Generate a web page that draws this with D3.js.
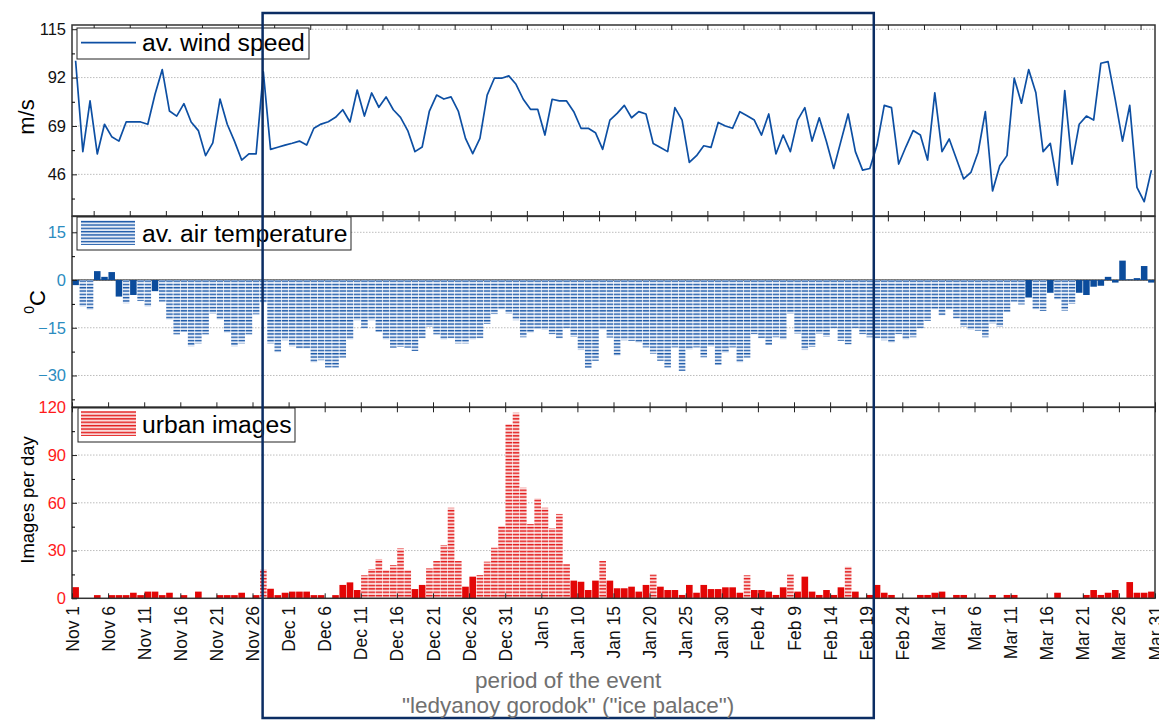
<!DOCTYPE html>
<html>
<head>
<meta charset="utf-8">
<script src="https://cdn.jsdelivr.net/npm/d3@7/dist/d3.min.js"></script>
<style>
  body { margin: 0; background: #fff; }
  text { font-family: "Liberation Sans", Arial, sans-serif; }
</style>
</head>
<body>
<div id="chart"></div>
<script>
// x tick labels, one every 5 days from Nov 1 (day 0) to Mar 31 (day 150)
const tickLabels = ["Nov 1","Nov 6","Nov 11","Nov 16","Nov 21","Nov 26","Dec 1","Dec 6","Dec 11",
  "Dec 16","Dec 21","Dec 26","Dec 31","Jan 5","Jan 10","Jan 15","Jan 20","Jan 25","Jan 30",
  "Feb 4","Feb 9","Feb 14","Feb 19","Feb 24","Mar 1","Mar 6","Mar 11","Mar 16","Mar 21","Mar 26","Mar 31"];

// daily values, Nov 1 .. Mar 30
const windSpeed = [
  100, 56.8, 80.9, 55.7, 69.8, 63.9, 61.8, 70.9, 70.9, 70.9,
  69.8, 84.1, 95.8, 76.1, 73.7, 79.6, 70.9, 66.8, 54.9, 61,
  81.8, 69.8, 61.8, 52.8, 55.7, 55.7, 94.7, 57.9, 58.9, 59.9,
  60.8, 61.8, 59.9, 67.9, 69.9, 71, 73.1, 76.7, 70.9, 86.1,
  73.7, 84.7, 77.9, 82.8, 76.7, 73.1, 66.8, 56.8, 59, 76.1,
  83.7, 81.8, 82.8, 76.1, 63.1, 55.8, 63.1, 83.7, 91.7, 91.7,
  92.8, 88.8, 81.7, 76.9, 76.9, 64.7, 81.7, 80.9, 80.9, 75.8,
  67.9, 67.9, 65.8, 57.9, 71.8, 75, 78.8, 72.9, 75.8, 74.7,
  60.7, 58.8, 56.8, 77.7, 71.8, 51.7, 54.9, 59.6, 58.8, 70.7,
  69, 67.9, 75.8, 73.9, 71.8, 64.7, 74.7, 55.7, 64.7, 56.8,
  71.8, 77.7, 61.8, 72.9, 61.5, 48.8, 61.8, 74.7, 56.8, 48,
  48.8, 59.9, 78.8, 77.7, 50.9, 59.1, 66.8, 64.7, 52.8, 84.7,
  56.8, 62.8, 53.3, 43.8, 46.9, 56.5, 75.8, 38.1, 50.1, 54.9,
  91.7, 79.8, 95.8, 84.8, 56.8, 60.7, 40.9, 85.8, 50.9, 69.8,
  73.7, 71.8, 98.8, 99.6, 81.4, 61.8, 78.8, 39.8, 33, 48
];

const airTemp = [
  -1.6, -8.4, -9.4, 2.8, 1.0, 2.5, -5.2, -7.3, -4.7, -6.6,
  -8.4, -3.5, -6.8, -12.4, -17.1, -16.3, -20.8, -19.9, -17.1, -10.5,
  -12.4, -16.6, -20.8, -19.9, -17.1, -10.8, -7.1, -19.9, -22.7, -18.9,
  -20.8, -21.5, -21.5, -25.9, -25.2, -27.5, -27.5, -24.4, -18.7, -12.6,
  -15.2, -12.6, -16.3, -18.7, -21.3, -21, -21.3, -22.3, -18.3, -14.7,
  -17.1, -18.7, -18.3, -19.9, -19.9, -18.7, -18.3, -13.8, -10.7, -9.2,
  -10.5, -12.6, -18.0, -16.6, -15.4, -15.7, -17.0, -18.3, -15.2, -17.8,
  -22.0, -27.6, -25.4, -15.5, -18.1, -23.8, -18.9, -19.1, -19.7, -21.2,
  -23.1, -25.4, -27.5, -21.2, -28.6, -21.8, -21.2, -24.3, -20.8, -26.7,
  -22.9, -21.2, -25.9, -24.4, -17.0, -18.3, -20.4, -18.0, -18.7, -10.5,
  -16.8, -22.0, -21.0, -16.8, -17.8, -15.2, -19.1, -20.2, -15.2, -17.0,
  -18.0, -18.3, -18.9, -19.7, -17.0, -18.7, -18.0, -15.2, -12.8, -9.2,
  -11.1, -9.2, -12.1, -14.7, -15.7, -15.9, -18.0, -13.6, -14.7, -10.0,
  -6.8, -7.7, -5.5, -9.2, -9.7, -4.0, -6.1, -9.6, -7.5, -4.0,
  -4.7, -2.1, -1.8, 1.0, -0.8, 6.1, 0.2, 0.6, 4.4, -0.8
];

const urbanImages = [
  7, 0, 0, 2, 0, 2, 2, 2, 3.5, 2,
  4.2, 4.2, 2, 3.5, 0, 2, 0, 4.2, 0, 0,
  2, 2, 2, 3.5, 0, 2, 18, 6, 2, 3.5,
  4.2, 4.2, 4.2, 2, 2, 0, 2, 8.4, 10, 5.2,
  14.5, 18.4, 24.7, 17.8, 20.9, 31.4, 17.8, 5.8, 8.4, 18.8,
  23.4, 33.5, 56.9, 23.4, 7.3, 13.6, 14.6, 23, 31.8, 45.4,
  109.5, 116.6, 69.5, 46.7, 62.8, 56.9, 44, 53, 21.5, 11.1,
  10.4, 5.2, 11.1, 23.4, 11.1, 6.3, 6.3, 7.3, 4.2, 8.4,
  15, 7.3, 5.2, 5.2, 2.1, 8.4, 3.5, 8.4, 5.8, 5.8,
  6.9, 6.9, 3.5, 14.5, 5.2, 5.2, 4.2, 2.1, 6.9, 15,
  4.2, 13.6, 4.2, 2.1, 5.2, 2.1, 6.9, 19.9, 4.2, 0,
  2.1, 8.4, 3.5, 2.1, 0, 0, 0, 2.1, 2.1, 3.5,
  4.2, 0, 2.1, 2.1, 0, 0, 0, 2.1, 0, 2.1,
  2.1, 0, 0, 0, 0, 0, 3.5, 0, 0, 0,
  2.1, 5.2, 2.1, 3.5, 5.2, 0, 10.2, 3.5, 3.5, 4.2
];

const windTicks = [46, 69, 92, 115];
const tempTicks = [-30, -15, 0, 15];
const imageTicks = [0, 30, 60, 90, 120];

// event "ledyanoy gorodok", in days from Nov 1
const eventPeriod = [26.4, 111.05];

const width = 1159, height = 720;
const left = 72, right = 1155;

let svg = d3.select("#chart")
    .append("svg")
    .attr("width", width)
    .attr("height", height);

let defs = svg.append("defs");

let pb = defs.append("pattern")
    .attr("id", "hatchBlue")
    .attr("patternUnits", "userSpaceOnUse")
    .attr("width", 6).attr("height", 3.3);
pb.append("rect").attr("width", 6).attr("height", 3.3).attr("fill", "#d3dff2");
pb.append("rect").attr("y", 0).attr("width", 6).attr("height", 1.3).attr("fill", "#1d5aa8");
pb.append("rect").attr("y", 2.1).attr("width", 6).attr("height", 0.6).attr("fill", "#ffffff");

let pr = defs.append("pattern")
    .attr("id", "hatchRed")
    .attr("patternUnits", "userSpaceOnUse")
    .attr("width", 6).attr("height", 3.4);
pr.append("rect").attr("width", 6).attr("height", 3.4).attr("fill", "#f6b9b9");
pr.append("rect").attr("y", 0).attr("width", 6).attr("height", 1.3).attr("fill", "#e31b1b");
pr.append("rect").attr("y", 2.1).attr("width", 6).attr("height", 0.7).attr("fill", "#ffffff");

let x = d3.scaleLinear().domain([0, 150]).range([left, right]);
let step = x(1) - x(0);
let days = tickLabels.map((d, i) => i * 5);
let offsetDays = d3.range(3, 150, 5);

let yWind = d3.scaleLinear().domain([26.2, 117]).range([216, 25]);
let yTemp = d3.scaleLinear().domain([-40, 20]).range([407.3, 216.4]);
let yImg = d3.scaleLinear().domain([0, 120]).range([598.3, 407.3]);

function midTicks(t) {
  let out = [];
  let h = (t[1] - t[0]) / 2;
  for (let v = t[0] - h; v <= t[t.length - 1] + h; v += 2 * h) out.push(v);
  return out;
}

function grid(y, vals) {
  svg.append("g").selectAll("line").data(vals).enter().append("line")
      .attr("x1", left).attr("x2", right)
      .attr("y1", d => y(d)).attr("y2", d => y(d))
      .attr("stroke", "#bdbdbd")
      .attr("stroke-width", 1)
      .attr("stroke-dasharray", "1.5,1.5");
}

function yAxis(y, ticks, color) {
  let minor = midTicks(ticks).filter(v => v > y.domain()[0] && v < y.domain()[1]);
  svg.append("g")
      .attr("transform", `translate(${left},0)`)
      .call(d3.axisLeft(y).tickValues(minor).tickSizeInner(-3).tickSizeOuter(0).tickFormat(""))
      .call(g => g.select(".domain").remove());
  let g = svg.append("g")
      .attr("transform", `translate(${left},0)`)
      .call(d3.axisLeft(y).tickValues(ticks).tickSizeInner(-5).tickSizeOuter(0).tickPadding(6));
  g.select(".domain").remove();
  g.selectAll("line").attr("stroke", "#222");
  g.selectAll("text")
      .attr("fill", color)
      .style("font-size", "16.5px")
      .style("font-family", "'Liberation Sans', Arial, sans-serif");
}

function xTicks(ypos, vals, dir) {
  let axis = dir === "up" ? d3.axisBottom(x) : d3.axisTop(x);
  svg.append("g")
      .attr("transform", `translate(0,${ypos})`)
      .call(axis.tickValues(vals).tickSizeInner(-5).tickSizeOuter(0).tickFormat(""))
      .call(g => g.select(".domain").remove())
      .call(g => g.selectAll("line").attr("stroke", "#222"));
}

// grids
grid(yWind, windTicks);
grid(yTemp, tempTicks);
grid(yImg, imageTicks.filter(d => d > 0 && d < 120));

// panel 2 baseline
svg.append("line")
    .attr("x1", left).attr("x2", right)
    .attr("y1", yTemp(0)).attr("y2", yTemp(0))
    .attr("stroke", "#000").attr("stroke-width", 1);

// wind line
let line = d3.line()
    .x((d, i) => x(i) + step / 2)
    .y(d => yWind(d));

svg.append("path")
    .datum(windSpeed)
    .attr("d", line)
    .attr("fill", "none")
    .attr("stroke", "#0d4fa3")
    .attr("stroke-width", 1.7)
    .attr("stroke-linejoin", "round");

// temperature bars
svg.append("g").selectAll("rect").data(airTemp).enter().append("rect")
    .attr("x", (d, i) => x(i) + 0.35)
    .attr("width", step - 0.7)
    .attr("y", d => yTemp(Math.max(d, 0)))
    .attr("height", d => Math.abs(yTemp(d) - yTemp(0)))
    .attr("fill", d => d > -6 ? "#0b4c9c" : "url(#hatchBlue)");

// image bars
svg.append("g").selectAll("rect").data(urbanImages).enter().append("rect")
    .attr("x", (d, i) => x(i) + 0.3)
    .attr("width", step - 0.6)
    .attr("y", d => yImg(d))
    .attr("height", d => yImg(0) - yImg(d))
    .attr("fill", d => d >= 14.2 ? "url(#hatchRed)" : "#e30606");

// frames
[[25, 216], [216.4, 407.3], [407.3, 598.3]].forEach(p => {
  svg.append("rect")
      .attr("x", left).attr("y", p[0])
      .attr("width", right - left).attr("height", p[1] - p[0])
      .attr("fill", "none")
      .attr("stroke", "#333")
      .attr("stroke-width", 1.5);
});

// axes
yAxis(yWind, windTicks, "#111");
yAxis(yTemp, tempTicks, "#2b8cbf");
yAxis(yImg, imageTicks, "#ff1a1a");

xTicks(25, offsetDays, "down");
xTicks(216, offsetDays, "up");
xTicks(216.4, offsetDays, "down");
xTicks(407.3, days, "up");
xTicks(407.3, days, "down");
xTicks(598.3, days, "up");

// x labels
svg.append("g").selectAll("text").data(tickLabels).enter().append("text")
    .attr("transform", (d, i) => `translate(${x(days[i]) + 6.5},606) rotate(-90)`)
    .style("text-anchor", "end")
    .style("font-size", "17.5px")
    .attr("fill", "#111")
    .text(d => d);

// y titles
svg.append("text")
    .attr("transform", "translate(34,117) rotate(-90)")
    .style("text-anchor", "middle")
    .style("font-size", "22px")
    .text("m/s");

let tt = svg.append("text")
    .attr("transform", "translate(41,302) rotate(-90)")
    .style("text-anchor", "middle")
    .style("font-size", "22px");
tt.append("tspan").attr("dy", "-0.5em").style("font-size", "14px").text("0");
tt.append("tspan").attr("dy", "0.5em").text("C");

svg.append("text")
    .attr("transform", "translate(34,500) rotate(-90)")
    .style("text-anchor", "middle")
    .style("font-size", "18.5px")
    .text("Images per day");

// legends
svg.append("rect").attr("x", 77).attr("y", 28).attr("width", 232).attr("height", 31)
    .attr("fill", "#fff").attr("stroke", "#222").attr("stroke-width", 1);
svg.append("line").attr("x1", 81).attr("x2", 136).attr("y1", 42.7).attr("y2", 42.7)
    .attr("stroke", "#0d4fa3").attr("stroke-width", 1.7);
svg.append("text").attr("x", 142).attr("y", 51).style("font-size", "24.7px").text("av. wind speed");

svg.append("rect").attr("x", 77).attr("y", 217).attr("width", 274).attr("height", 33)
    .attr("fill", "#fff").attr("stroke", "#222").attr("stroke-width", 1);
svg.append("rect").attr("x", 81).attr("y", 220).attr("width", 54).attr("height", 25)
    .attr("fill", "url(#hatchBlue)");
svg.append("text").attr("x", 142).attr("y", 242).style("font-size", "24.7px").text("av. air temperature");

svg.append("rect").attr("x", 78).attr("y", 408).attr("width", 217).attr("height", 34)
    .attr("fill", "#fff").attr("stroke", "#222").attr("stroke-width", 1);
svg.append("rect").attr("x", 81).attr("y", 411).attr("width", 55).attr("height", 25)
    .attr("fill", "url(#hatchRed)");
svg.append("text").attr("x", 142).attr("y", 433).style("font-size", "24.7px").text("urban images");

// event period box
svg.append("rect")
    .attr("x", x(eventPeriod[0]))
    .attr("y", 13)
    .attr("width", x(eventPeriod[1]) - x(eventPeriod[0]))
    .attr("height", 705)
    .attr("fill", "none")
    .attr("stroke", "#0b2d63")
    .attr("stroke-width", 2.5);

let cx = (x(eventPeriod[0]) + x(eventPeriod[1])) / 2;
svg.append("text").attr("x", cx).attr("y", 688)
    .style("text-anchor", "middle").style("font-size", "22.5px").attr("fill", "#707070")
    .text("period of the event");
svg.append("text").attr("x", cx).attr("y", 713)
    .style("text-anchor", "middle").style("font-size", "22.5px").attr("fill", "#707070")
    .text("\"ledyanoy gorodok\" (\"ice palace\")");
</script>
</body>
</html>
